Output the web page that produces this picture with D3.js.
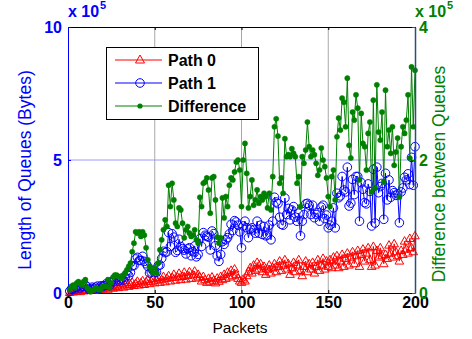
<!DOCTYPE html>
<html><head><meta charset="utf-8">
<script src="https://cdn.jsdelivr.net/npm/d3@7/dist/d3.min.js"></script>
<style>body{margin:0;background:#fff}svg{display:block;font-family:Arial,"Liberation Sans",sans-serif}</style>
</head><body><svg id="c" width="472" height="339"></svg>
<script>
const path0 = [0.02,0.05,0.04,0.08,0.06,0.10,0.05,0.12,0.08,0.10,
0.15,0.09,0.12,0.18,0.10,0.14,0.20,0.12,0.22,0.15,
0.18,0.25,0.14,0.20,0.28,0.18,0.24,0.30,0.20,0.26,
0.34,0.22,0.30,0.38,0.25,0.32,0.40,0.28,0.36,0.44,
0.30,0.38,0.46,0.32,0.42,0.50,0.35,0.44,0.55,0.38,
0.48,0.58,0.40,0.50,0.62,0.42,0.55,0.65,0.45,0.58,
0.70,0.48,0.60,0.74,0.50,0.62,0.78,0.52,0.66,0.80,
0.55,0.68,0.82,0.56,0.70,0.60,0.45,0.62,0.50,0.40,
0.55,0.42,0.60,0.48,0.38,0.56,0.44,0.62,0.50,0.70,
0.55,0.78,0.60,0.85,0.65,0.90,0.70,0.55,0.45,0.40,
0.52,0.45,0.65,0.80,0.95,0.75,1.05,0.85,1.15,0.90,
1.10,0.80,1.00,0.70,0.90,1.05,0.75,0.95,1.10,0.80,
1.00,1.20,0.85,1.05,1.25,0.90,1.10,0.70,0.95,1.15,
0.80,1.05,1.25,0.85,0.65,1.00,1.20,0.80,1.10,0.90,
1.15,0.75,1.00,1.25,0.85,1.05,1.30,0.90,1.20,1.00,
1.25,0.95,1.35,1.05,1.40,0.95,1.20,1.45,1.00,1.30,
1.50,1.05,1.35,1.55,1.10,1.40,1.60,1.00,1.45,1.65,
1.20,1.50,1.70,1.25,1.00,1.75,1.05,1.60,1.35,1.70,
1.40,1.10,1.45,1.30,1.80,1.50,1.35,1.85,1.55,1.40,
1.20,1.60,1.45,1.95,1.65,1.50,2.05,1.70,1.55,2.15];

const path1 = [0.07,0.15,0.16,0.16,0.21,0.27,0.19,0.24,0.25,0.30,
0.23,0.14,0.14,0.22,0.15,0.22,0.26,0.17,0.27,0.25,
0.28,0.35,0.34,0.28,0.43,0.42,0.51,0.57,0.45,0.50,
0.56,0.49,0.60,0.73,0.65,0.77,1.02,1.03,1.28,1.34,
1.22,1.23,1.38,1.19,1.10,1.00,0.75,0.79,0.85,0.76,
0.78,1.03,1.05,1.30,1.57,1.52,1.55,2.27,1.75,2.23,
2.10,1.53,1.60,2.02,1.75,1.67,1.61,1.47,1.66,1.70,
1.40,1.55,1.77,1.36,1.45,2.04,1.75,2.27,2.17,2.13,
2.10,1.62,2.33,2.23,1.78,1.40,1.19,1.45,1.93,1.83,
2.00,2.08,2.22,2.58,2.35,2.72,2.67,2.55,2.30,1.70,
2.52,2.70,2.45,2.08,2.40,2.45,2.37,2.25,2.70,2.25,
2.55,2.20,2.50,2.15,2.18,2.55,2.00,2.70,3.60,3.42,
3.36,2.85,2.58,2.55,3.57,2.95,3.18,2.75,3.12,3.25,
2.85,2.70,3.00,2.15,2.70,2.95,3.35,3.37,3.30,2.95,
3.30,2.83,2.95,3.02,2.70,3.23,3.30,2.80,2.93,2.45,
2.55,2.70,3.20,2.45,3.75,3.58,3.65,4.38,3.87,3.80,
4.73,3.27,3.38,4.27,3.70,4.38,4.38,2.70,4.15,3.90,
3.40,3.35,4.10,3.82,2.52,4.65,2.63,4.73,3.77,4.00,
4.12,2.77,4.50,3.50,4.25,3.60,3.85,3.77,3.67,3.73,
2.64,3.80,3.95,4.35,4.25,4.48,4.08,5.10,4.05,5.50];

const difference = [0.05,0.10,0.12,0.08,0.15,0.17,0.14,0.12,0.17,0.20,
0.08,0.05,0.02,0.04,0.05,0.08,0.06,0.05,0.05,0.10,
0.10,0.10,0.20,0.08,0.15,0.24,0.27,0.27,0.25,0.24,
0.22,0.27,0.30,0.35,0.40,0.45,0.62,0.75,0.92,0.90,
0.92,0.85,0.92,0.87,0.68,0.50,0.40,0.35,0.30,0.38,
0.30,0.45,0.65,0.80,0.95,1.10,1.00,1.62,1.30,1.65,
1.40,1.05,1.00,1.28,1.25,1.05,0.83,0.95,1.00,0.90,
0.85,0.87,0.95,0.80,0.75,1.44,1.30,1.65,1.67,1.73,
1.55,1.20,1.73,1.75,1.40,0.84,0.75,0.83,1.43,1.13,
1.45,1.30,1.62,1.73,1.70,1.82,1.97,2.00,1.85,1.30,
2.00,2.25,1.80,1.28,1.45,1.70,1.32,1.40,1.55,1.35,
1.45,1.40,1.50,1.45,1.28,1.50,1.25,1.75,2.50,2.62,
2.36,1.65,1.73,1.50,2.32,2.05,2.08,2.05,2.17,2.10,
2.05,1.65,1.75,1.30,2.05,1.95,2.15,2.57,2.20,2.05,
2.15,2.08,1.95,1.77,1.85,2.18,2.00,1.90,1.73,1.45,
1.30,1.75,1.85,1.40,2.35,2.63,2.45,2.93,2.87,2.50,
3.23,2.22,2.03,2.72,2.60,2.98,2.78,1.70,2.70,2.25,
2.20,1.85,2.40,2.57,1.52,2.90,1.58,3.13,2.42,2.30,
2.72,1.67,3.05,2.20,2.45,2.10,2.50,1.92,2.12,2.33,
1.44,2.20,2.50,2.40,2.60,2.98,2.03,3.40,2.50,3.35];

const packets = d3.range(1, 201);
const xTicks = [0, 50, 100, 150, 200];
const leftTicks = [0, 5, 10];
const rightTicks = [0, 2, 4];
const seriesNames = ["Path 0", "Path 1", "Difference"];

const svg = d3.select("#c");
const L = 68, R = 415, T = 27, B = 293;
const x = d3.scaleLinear().domain([0, 200]).range([L, R]);
const yL = d3.scaleLinear().domain([0, 10]).range([B, T]);
const yR = d3.scaleLinear().domain([0, 4]).range([B, T]);

const blue = "#0000ff", red = "#ff0000", green = "#008000";

// grid
svg.append("g").selectAll("line").data(xTicks.slice(1, -1)).join("line")
  .attr("x1", d => x(d)).attr("x2", d => x(d)).attr("y1", T).attr("y2", B)
  .attr("stroke", "#a8a8a8").attr("stroke-width", 1);
svg.append("g").selectAll("line").data(leftTicks.slice(1, -1)).join("line")
  .attr("x1", L).attr("x2", R).attr("y1", d => yL(d)).attr("y2", d => yL(d))
  .attr("stroke", "#9a9aff").attr("stroke-width", 1);

// axes
const gx = svg.append("g").attr("transform", `translate(0,${B})`)
  .call(d3.axisBottom(x).tickValues(xTicks).tickSizeInner(-3).tickSizeOuter(0).tickPadding(0));
gx.select(".domain").attr("stroke", "#000");
gx.selectAll("text").attr("font-size", 16).attr("font-weight", "bold").attr("fill", "#000")
  .attr("dy", null).attr("y", 15);
const gxt = svg.append("g").attr("transform", `translate(0,${T})`)
  .call(d3.axisTop(x).tickValues(xTicks).tickSizeInner(-3).tickSizeOuter(0).tickFormat(""));
gxt.select(".domain").attr("stroke", "#000");

const gl = svg.append("g").attr("transform", `translate(${L},0)`)
  .call(d3.axisLeft(yL).tickValues(leftTicks).tickSizeInner(-3).tickSizeOuter(0).tickPadding(6));
gl.select(".domain").attr("stroke", blue);
gl.selectAll(".tick line").attr("stroke", blue);
gl.selectAll("text").attr("font-size", 16).attr("font-weight", "bold").attr("fill", blue);

function drawSeries(vals, scale, color, shape) {
  const g = svg.append("g");
  const pts = packets.map((p, i) => [x(p), scale(vals[i])]);
  g.append("path").attr("d", d3.line()(pts)).attr("fill", "none").attr("stroke", color).attr("stroke-width", 1);
  if (shape === "tri") {
    g.selectAll("path.m").data(pts).join("path").attr("class", "m")
      .attr("d", d => `M${d[0]},${d[1]-4.5}L${d[0]+4.3},${d[1]+3}L${d[0]-4.3},${d[1]+3}Z`)
      .attr("fill", "none").attr("stroke", color).attr("stroke-width", 1);
  } else if (shape === "circ") {
    g.selectAll("circle").data(pts).join("circle").attr("cx", d => d[0]).attr("cy", d => d[1])
      .attr("r", 4.3).attr("fill", "none").attr("stroke", color).attr("stroke-width", 1);
  } else {
    g.selectAll("circle").data(pts).join("circle").attr("cx", d => d[0]).attr("cy", d => d[1])
      .attr("r", 2.6).attr("fill", color).attr("stroke", color).attr("stroke-width", 0.5);
  }
}
drawSeries(path0, yL, red, "tri");
drawSeries(path1, yL, blue, "circ");
drawSeries(difference, yR, green, "dot");

const gr = svg.append("g").attr("transform", `translate(${R},0)`)
  .call(d3.axisRight(yR).tickValues(rightTicks).tickFormat(d3.format("d")).tickSizeInner(-3).tickSizeOuter(0).tickPadding(4));
gr.select(".domain").attr("stroke", "#24527a").attr("stroke-width", 1.5);
gr.selectAll(".tick line").attr("stroke", green);
gr.selectAll("text").attr("font-size", 16).attr("font-weight", "bold").attr("fill", green);

// exponent labels
function expo(x0, y0, color) {
  svg.append("text").attr("x", x0).attr("y", y0).attr("fill", color)
    .attr("font-size", 16).attr("font-weight", "bold").text("x 10");
  svg.append("text").attr("x", x0 + 32).attr("y", y0 - 8).attr("fill", color)
    .attr("font-size", 11).attr("font-weight", "bold").text("5");
}
expo(68, 17, blue);
expo(415, 17, green);

// axis titles
svg.append("text").attr("transform", `translate(31,170) rotate(-90)`)
  .attr("text-anchor", "middle").attr("font-size", 17.5).attr("fill", blue).text("Length of Queues (Bytes)");
svg.append("text").attr("transform", `translate(445,174) rotate(-90)`)
  .attr("text-anchor", "middle").attr("font-size", 17.5).attr("fill", green).text("Difference between Queues");
svg.append("text").attr("x", 240).attr("y", 333).attr("text-anchor", "middle")
  .attr("font-size", 15.5).attr("fill", "#000").text("Packets");

// legend
const lg = svg.append("g");
lg.append("rect").attr("x", 106.5).attr("y", 47.5).attr("width", 152).attr("height", 72)
  .attr("fill", "#fff").attr("stroke", "#000").attr("stroke-width", 1);
const legColors = [red, blue, green], legShapes = ["tri", "circ", "dot"];
seriesNames.forEach((name, i) => {
  const yy = 60 + i * 23;
  lg.append("line").attr("x1", 115).attr("x2", 162).attr("y1", yy).attr("y2", yy)
    .attr("stroke", legColors[i]).attr("stroke-width", 1);
  if (legShapes[i] === "tri") lg.append("path").attr("d", `M140,${yy-5}L144.5,${yy+3}L135.5,${yy+3}Z`).attr("fill", "none").attr("stroke", red);
  else if (legShapes[i] === "circ") lg.append("circle").attr("cx", 140).attr("cy", yy).attr("r", 4.3).attr("fill", "none").attr("stroke", blue);
  else lg.append("circle").attr("cx", 140).attr("cy", yy).attr("r", 2.6).attr("fill", green);
  lg.append("text").attr("x", 168).attr("y", yy + 5.5).attr("font-size", 16).attr("font-weight", "bold").text(name);
});
</script></body></html>
